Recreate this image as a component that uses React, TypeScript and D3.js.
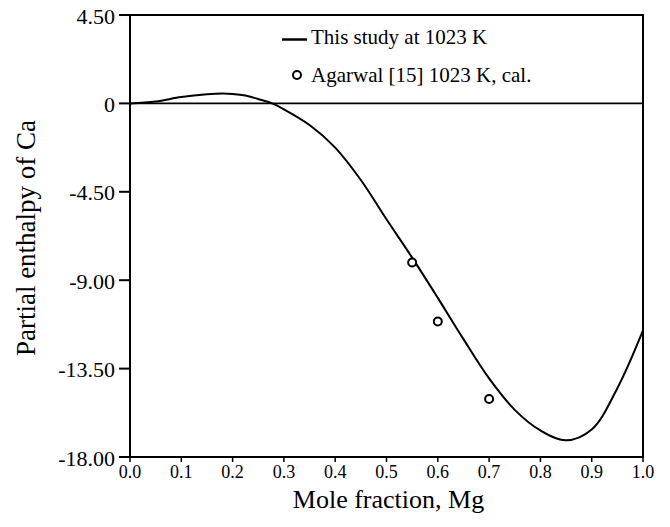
import React from "react";
import * as d3 from "d3";

const curveX = [0.0, 0.05, 0.1, 0.15, 0.18, 0.2, 0.225, 0.25, 0.277, 0.3, 0.35, 0.4, 0.45, 0.5, 0.55, 0.6, 0.65, 0.7, 0.75, 0.8, 0.85, 0.9, 0.95, 1.0];
const curveY = [0.0, 0.1, 0.32, 0.46, 0.5, 0.48, 0.4, 0.22, 0.0, -0.3, -1.1, -2.25, -3.9, -5.9, -7.85, -9.9, -12.0, -14.0, -15.6, -16.65, -17.15, -16.6, -14.5, -11.56];

const agarwalX = [0.55, 0.6, 0.7];
const agarwalY = [-8.1, -11.1, -15.05];

const xTicks = [0.0, 0.1, 0.2, 0.3, 0.4, 0.5, 0.6, 0.7, 0.8, 0.9, 1.0];
const yTicks = [4.5, 0, -4.5, -9, -13.5, -18];
const yTickLabels = ["4.50", "0", "-4.50", "-9.00", "-13.50", "-18.00"];

const legendLabels = ["This study at 1023 K", "Agarwal [15] 1023 K, cal."];

const W = 670;
const H = 527;
const left = 130;
const right = 643;
const top = 15;
const bottom = 457;
const font = "Liberation Serif";

export default function App() {
  const x = d3.scaleLinear().domain([0, 1]).range([left, right]);
  const y = d3.scaleLinear().domain([-18, 4.5]).range([bottom, top]);
  const pts: [number, number][] = curveX.map((v, i) => [v, curveY[i]]);
  const line = d3
    .line<[number, number]>()
    .x((d) => x(d[0]))
    .y((d) => y(d[1]))
    .curve(d3.curveCatmullRom.alpha(0.5));
  const ts = { fontFamily: font };

  return (
    <svg
      width={W}
      height={H}
      style={{ position: "absolute", left: 0, top: 0, background: "#fff" }}
    >
      <rect x={0} y={0} width={W} height={H} fill="#fff" />
      <rect x={left} y={top} width={right - left} height={bottom - top} fill="none" stroke="#000" strokeWidth={2} />
      <line x1={left} x2={right} y1={y(0)} y2={y(0)} stroke="#000" strokeWidth={1.8} />
      {yTicks.map((t, i) => (
        <g key={"y" + i}>
          <line x1={left - 11} x2={left} y1={y(t)} y2={y(t)} stroke="#000" strokeWidth={2} />
          <text style={ts} x={left - 15} y={y(t) + 1} textAnchor="end" dominantBaseline="central" fontSize={22}>
            {yTickLabels[i]}
          </text>
        </g>
      ))}
      {xTicks.map((t, i) => (
        <g key={"x" + i}>
          <line x1={x(t)} x2={x(t)} y1={bottom} y2={bottom + 5} stroke="#000" strokeWidth={1.5} />
          <text style={ts} x={x(t)} y={bottom + 21} textAnchor="middle" fontSize={18}>
            {t.toFixed(1)}
          </text>
        </g>
      ))}
      <path d={line(pts) || ""} fill="none" stroke="#000" strokeWidth={2} />
      {agarwalX.map((v, i) => (
        <circle key={"p" + i} cx={x(v)} cy={y(agarwalY[i])} r={4} fill="#fff" stroke="#000" strokeWidth={2} />
      ))}
      <line x1={282} x2={307} y1={39.5} y2={39.5} stroke="#000" strokeWidth={2.5} />
      <text style={ts} x={311} y={44} fontSize={21}>{legendLabels[0]}</text>
      <circle cx={297} cy={75} r={4} fill="#fff" stroke="#000" strokeWidth={2} />
      <text style={ts} x={311} y={82} fontSize={21}>{legendLabels[1]}</text>
      <text style={ts} x={(left + right) / 2 + 2} y={508} textAnchor="middle" fontSize={26}>
        Mole fraction, Mg
      </text>
      <text
        style={ts}
        transform={`translate(35, ${(top + bottom) / 2 + 2}) rotate(-90)`}
        textAnchor="middle"
        fontSize={27}
      >
        Partial enthalpy of Ca
      </text>
    </svg>
  );
}
